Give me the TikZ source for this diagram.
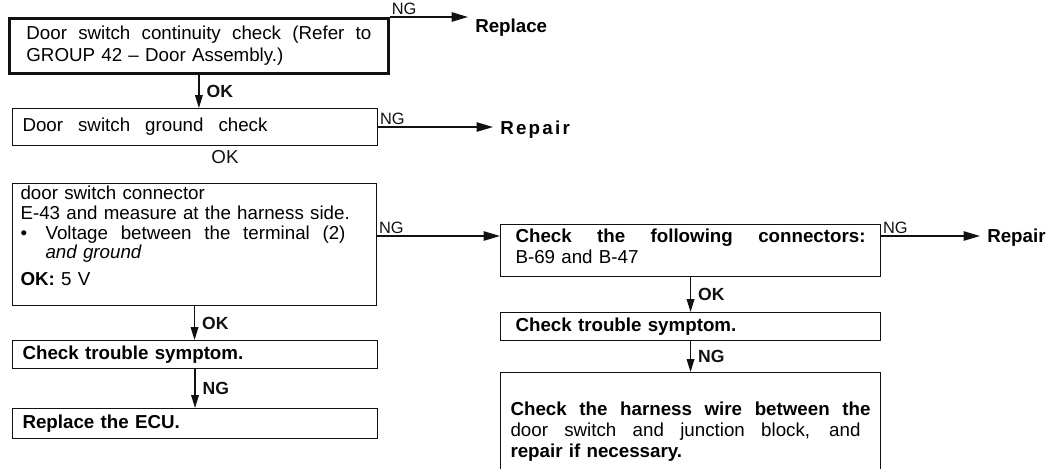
\documentclass[tikz,border=0pt]{standalone}
\usepackage{fontspec}
\setmainfont{Liberation Sans}
\usetikzlibrary{arrows.meta,positioning}
\definecolor{ink}{HTML}{111111}
\newcommand{\jline}[2]{\makebox[#1][s]{\spaceskip=0.28em plus 1fil\relax #2}}
\newcommand{\spaced}[1]{{\addfontfeature{LetterSpace=12}#1}}
\tikzset{
  box/.style={draw=ink, fill=white, anchor=north west, align=left,
              font=\fontsize{16}{17}\selectfont, inner xsep=0.3cm, inner ysep=0pt,
              line width=0.9pt},
  bigbox/.style={box, line width=2.4pt, font=\fontsize{16}{19}\selectfont},
  ar/.style={-{Triangle[length=11pt,width=6.5pt]}, line width=1.1pt, draw=ink},
  arng/.style={-{Triangle[length=14pt,width=8pt]}, line width=1.3pt, draw=ink},
  lbl/.style={font=\fontsize{14}{14}\selectfont, color=ink, inner sep=1pt},
  lblb/.style={font=\bfseries\fontsize{15}{15}\selectfont, color=ink, inner sep=1pt},
  outcome/.style={anchor=west, font=\bfseries\fontsize{16}{16}\selectfont, inner xsep=6pt}
}

\begin{document}
\begin{tikzpicture}[x=0.03cm,y=-0.03cm]
  \useasboundingbox (0,0) rectangle (1059,468);

  % left column
  \node[bigbox, text width=10.35cm, minimum height=1.65cm, inner xsep=0.51cm] (b1) at (8,17)
    {\jline{10.35cm}{Door switch continuity check (Refer to}\\GROUP 42 -- Door Assembly.)};
  \node[box, text width=10.35cm, minimum height=1.11cm] (b2) at (12,108)
    {\jline{7.35cm}{Door switch ground check}};
  \node[box, text width=10.44cm, minimum height=3.66cm, inner xsep=0.24cm] (b3) at (12,183)
    {door switch connector\\
     E-43 and measure at the harness side.\\
     \makebox[0.75cm][l]{\textbullet}\jline{9cm}{Voltage between the terminal (2)}\\
     \hspace*{0.75cm}\textit{and ground}\\[6pt]
     \textbf{OK:} 5 V\rule[-15pt]{0pt}{15pt}};
  \node[box, text width=10.35cm, minimum height=0.84cm] (b7) at (12,340)
    {\textbf{Check trouble symptom.}};
  \node[box, text width=10.35cm, minimum height=0.9cm] (b8) at (12,408)
    {\textbf{Replace the ECU.}};

  % right column
  \node[box, text width=10.5cm, minimum height=1.56cm, inner xsep=0.45cm,
        font=\fontsize{16}{18}\selectfont] (b4) at (500,224)
    {\jline{10.5cm}{\textbf{Check the following connectors:}}\\B-69 and B-47\rule[-8pt]{0pt}{8pt}};
  \node[box, text width=10.5cm, minimum height=0.84cm, inner xsep=0.45cm] (b5) at (500,312)
    {\textbf{Check trouble symptom.}};
  \node[box, text width=10.8cm, minimum height=3.54cm,
        font=\fontsize{16}{18}\selectfont] (b6) at (500,372)
    {\jline{10.8cm}{\textbf{Check the harness wire between the}}\\
     \jline{10.5cm}{door switch and junction block, and}\\
     \textbf{repair if necessary.}};

  % results
  \node[outcome] (replace) at (468,28) {Replace};
  \node[outcome] (repair1) at (493,130) {\spaced{Repair}};
  \node[outcome] (repair2) at (980,238) {Repair};
  \node[lbl, font=\fontsize{16}{16}\selectfont] (okmid) at (225,157) {OK};
  \coordinate (ngrow) at (440,236);

  % NG branches
  \draw[arng] (b1.north east) -- (b1.north east -| replace.west)
    node[lbl, pos=0, above right] {NG};
  \draw[arng] (b2.east) -- (b2.east -| repair1.west)
    node[lbl, pos=0, above right] {NG};
  \draw[arng] (b3.east |- ngrow) -- (b4.west |- ngrow)
    node[lbl, pos=0, above right] {NG};
  \draw[arng] (b4.east |- ngrow) -- (repair2.west |- ngrow)
    node[lbl, pos=0, above right] {NG};

  % OK / NG down the columns
  \draw[ar] (b1.south) -- (b1.south |- b2.north) node[lblb, midway, right=5pt] {OK};
  \draw[ar] (b3.south) -- (b3.south |- b7.north) node[lblb, midway, right=5pt] {OK};
  \draw[ar] (b7.south) -- (b7.south |- b8.north) node[lblb, midway, right=5pt] {NG};
  \draw[ar] (b4.south) -- (b4.south |- b5.north) node[lblb, midway, right=5pt] {OK};
  \draw[ar] (b5.south) -- (b5.south |- b6.north) node[lblb, midway, right=5pt] {NG};
\end{tikzpicture}
\end{document}
